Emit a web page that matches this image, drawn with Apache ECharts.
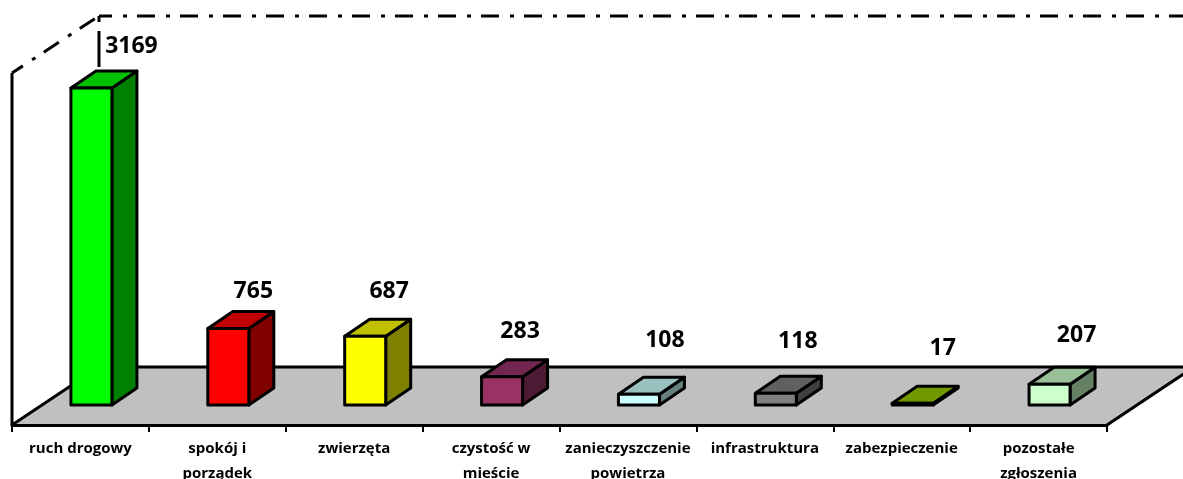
<!DOCTYPE html>
<html>
<head>
<meta charset="utf-8">
<style>
  html, body { margin: 0; padding: 0; background: #fff; }
  #chart { width: 1183px; height: 479px; }
</style>
<script src="https://cdn.jsdelivr.net/npm/echarts@6/dist/echarts.min.js"></script>
</head>
<body>
<div id="chart"></div>
<script>
const categories = [
  "ruch drogowy", "spokój i\nporządek", "zwierzęta", "czystość w\nmieście",
  "zanieczyszczenie\npowietrza", "infrastruktura", "zabezpieczenie", "pozostałe\nzgłoszenia"
];
const values = [3169, 765, 687, 283, 108, 118, 17, 207];

// front, top, side face of each box
const frontColors = ["#00ff00", "#ff0000", "#ffff00", "#993366", "#ccffff", "#808080", "#99cc00", "#ccffcc"];
const topColors = ["#00c000", "#c00000", "#c0c000", "#732650", "#99bfbf", "#606060", "#739900", "#99bf99"];
const sideColors = ["#008000", "#800000", "#808000", "#4d1a33", "#668080", "#404040", "#4d6600", "#668066"];

// the value labels were placed by hand in the original
const labelShiftX = [40, 25, 24, 18, 26, 22, 30, 27];
const labelShiftY = [42, 37, 45, 45, 54, 52, 55, 49];

const BAR_W = 41;
const BAR_SHIFT = 11;
const DEPTH_X = 25;
const DEPTH_Y = 17;
const LEFT = 12, RIGHT = 1107, FLOOR_Y = 425, BACK_Y = 367, BACK_X = 99, WALL_TOP = 73, BACK_TOP = 16;
const DASH = [18, 11, 4, 10];
const FONT = "'Open Sans', Lato, sans-serif";

function face(points, color) {
  return {
    type: "polygon",
    shape: { points: points },
    style: { fill: color, stroke: "#000", lineWidth: 3, lineJoin: "round" },
  };
}

function renderBox(params, api) {
  const i = api.value(0);
  const base = api.coord([i, 0]);
  const top = api.coord([i, api.value(1)]);
  const x0 = base[0] + BAR_SHIFT - BAR_W / 2;
  const x1 = x0 + BAR_W;
  const y0 = base[1];
  const y1 = top[1];
  return {
    type: "group",
    children: [
      face([[x1, y1], [x1 + DEPTH_X, y1 - DEPTH_Y], [x1 + DEPTH_X, y0 - DEPTH_Y], [x1, y0]], sideColors[i]),
      face([[x0, y1], [x0 + DEPTH_X, y1 - DEPTH_Y], [x1 + DEPTH_X, y1 - DEPTH_Y], [x1, y1]], topColors[i]),
      face([[x0, y0], [x0, y1], [x1, y1], [x1, y0]], frontColors[i]),
      {
        type: "text",
        x: base[0] + BAR_SHIFT + labelShiftX[i],
        y: y1 - labelShiftY[i],
        style: {
          text: String(api.value(1)),
          font: "bold 23px " + FONT,
          fill: "#000",
          align: "center",
          verticalAlign: "middle",
        },
      },
    ],
  };
}

function frameLine(x1, y1, x2, y2, dashed) {
  return {
    type: "line",
    z: 0,
    shape: { x1, y1, x2, y2 },
    style: {
      stroke: "#000",
      lineWidth: 3,
      lineDash: dashed ? DASH : null,
      lineDashOffset: dashed ? 5 : 0,
    },
  };
}

const chart = echarts.init(document.getElementById("chart"));
chart.setOption({
  animation: false,
  grid: { left: LEFT, right: 1183 - RIGHT, top: WALL_TOP, bottom: 74, outerBoundsMode: "none" },
  xAxis: {
    type: "category",
    data: categories,
    offset: 20,
    axisLine: { onZero: false, lineStyle: { color: "#000", width: 3 } },
    axisTick: { show: true, length: 7, lineStyle: { color: "#000", width: 2 } },
    axisLabel: {
      interval: 0,
      margin: 11,
      color: "#000",
      fontFamily: FONT,
      fontWeight: "bold",
      fontSize: 15,
      lineHeight: 25,
    },
  },
  yAxis: { type: "value", min: 0, max: 3320, show: false },
  graphic: [
    {
      type: "polygon",
      z: 0,
      shape: { points: [[LEFT, FLOOR_Y], [BACK_X, BACK_Y], [RIGHT + 87, BACK_Y], [RIGHT, FLOOR_Y]] },
      style: { fill: "#c0c0c0" },
    },
    frameLine(LEFT, FLOOR_Y, BACK_X, BACK_Y, false),
    frameLine(RIGHT, FLOOR_Y, RIGHT + 87, BACK_Y, false),
    frameLine(BACK_X, BACK_Y, 1183, BACK_Y, false),
    frameLine(LEFT, FLOOR_Y, LEFT, WALL_TOP, false),
    frameLine(LEFT, WALL_TOP, BACK_X, BACK_TOP, true),
    frameLine(BACK_X, BACK_TOP, 1183, BACK_TOP, true),
    // back corner: only these two pieces show above the first box
    frameLine(BACK_X, BACK_TOP, BACK_X, 22, false),
    frameLine(BACK_X, 31, BACK_X, 67, false),
  ],
  series: [
    {
      type: "custom",
      z: 5,
      clip: false,
      renderItem: renderBox,
      encode: { x: 0, y: 1 },
      data: values.map((v, i) => [i, v]),
    },
  ],
});
</script>
</body>
</html>
